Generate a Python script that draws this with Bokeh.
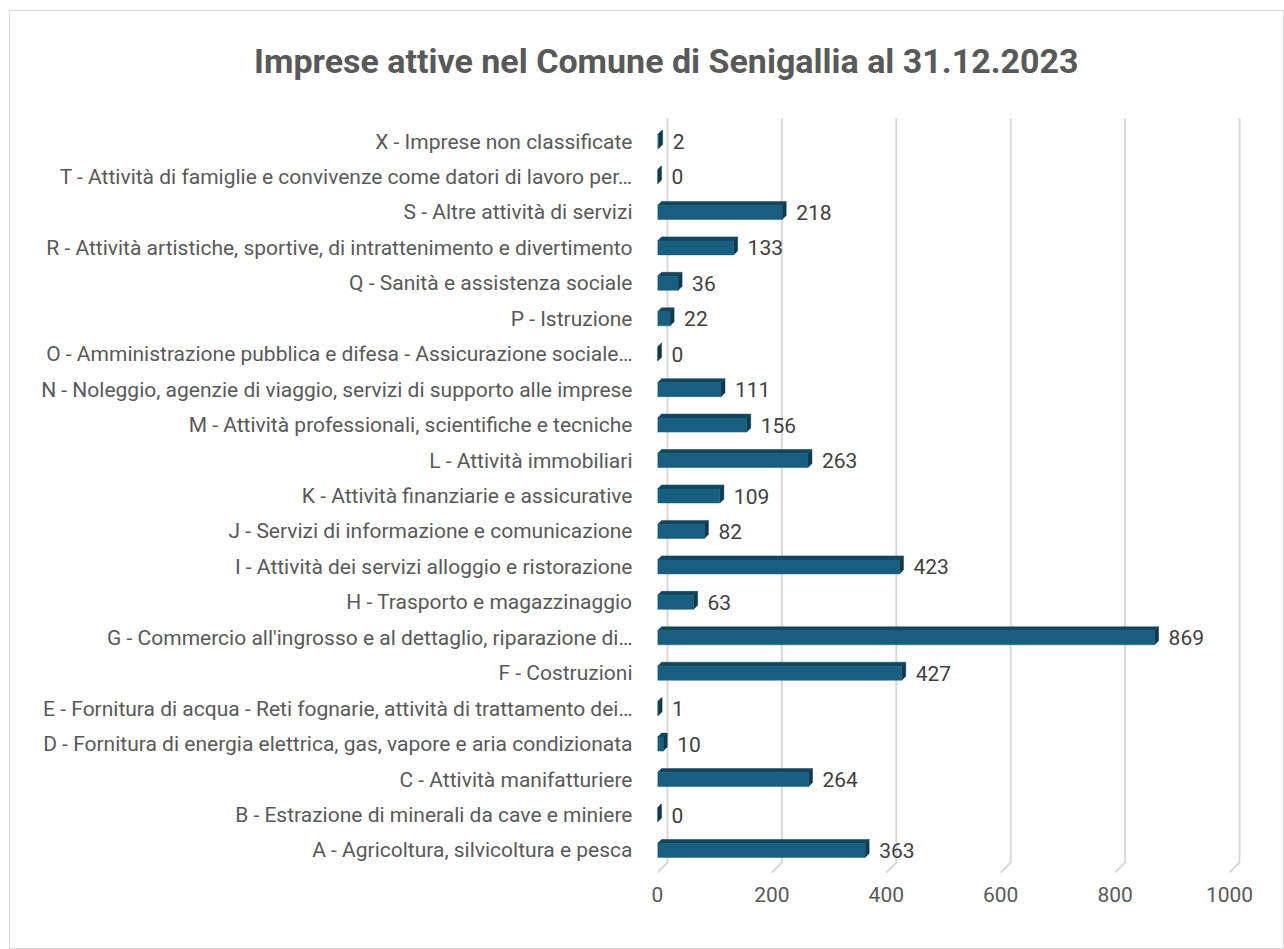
from bokeh.plotting import figure
from bokeh.models import Range1d, FixedTicker, Title, ColumnDataSource
from bokeh.core.properties import value
from bokeh.embed import file_html
from bokeh.resources import INLINE

title_text = "Imprese attive nel Comune di Senigallia al 31.12.2023"

categories = [
    "A - Agricoltura, silvicoltura e pesca",
    "B - Estrazione di minerali da cave e miniere",
    "C - Attività manifatturiere",
    "D - Fornitura di energia elettrica, gas, vapore e aria condizionata",
    "E - Fornitura di acqua - Reti fognarie, attività di trattamento dei…",
    "F - Costruzioni",
    "G - Commercio all'ingrosso e al dettaglio, riparazione di…",
    "H - Trasporto e magazzinaggio",
    "I - Attività dei servizi alloggio e ristorazione",
    "J - Servizi di informazione e comunicazione",
    "K - Attività finanziarie e assicurative",
    "L - Attività immobiliari",
    "M - Attività professionali, scientifiche e tecniche",
    "N - Noleggio, agenzie di viaggio, servizi di supporto alle imprese",
    "O - Amministrazione pubblica e difesa - Assicurazione sociale…",
    "P - Istruzione",
    "Q - Sanità e assistenza sociale",
    "R - Attività artistiche, sportive, di intrattenimento e divertimento",
    "S - Altre attività di servizi",
    "T - Attività di famiglie e convivenze come datori di lavoro per…",
    "X - Imprese non classificate",
]
values = [363, 0, 264, 10, 1, 427, 869, 63, 423, 82, 109, 263, 156, 111, 0, 22, 36, 133, 218, 0, 2]
x_ticks = [0, 200, 400, 600, 800, 1000]

FONT = "Roboto"
W, H = 1275, 939
ML, MR, MT, MB = 647, 35, 88, 77
XMAX = 1036.7
PX_PER_Y = 755 / 21.3
Y0 = -0.65
GRID_TOP = 20.65
frame_w = W - ML - MR
frame_h = H - MT - MB
Y1 = Y0 + frame_h / PX_PER_Y

p = figure(width=W, height=H, output_backend="svg", toolbar_location=None,
           x_range=Range1d(0, XMAX), y_range=Range1d(Y0, Y1),
           min_border_left=ML, min_border_right=MR, min_border_top=MT, min_border_bottom=MB)
p.outline_line_color = None
p.xgrid.grid_line_color = None
p.ygrid.grid_line_color = None
p.styles = {"border": "1px solid #d9d9d9", "margin-left": "9px", "margin-top": "10px"}

ux = XMAX / frame_w          # data units per px (x)
uy = 1 / PX_PER_Y            # data units per px (y)

# back-wall gridlines with 3D floor
g_dx, g_dy = 10 * ux, 10 * uy
floor_y = -0.62
xs = [[v, v + g_dx, v + g_dx] for v in x_ticks]
ys = [[floor_y, floor_y + g_dy, GRID_TOP] for v in x_ticks]
p.multi_line(xs, ys, line_color="#d9d9d9", line_width=2)

# 3D bars
bh = 14 * uy
d_x, d_y = 4 * ux, 4 * uy
front_xs, front_ys, top_xs, top_ys, side_xs, side_ys = [], [], [], [], [], []
for i, v in enumerate(values):
    b, t = i - bh / 2, i + bh / 2
    front_xs.append([0, v, v, 0]); front_ys.append([b, b, t, t])
    top_xs.append([0, v, v + d_x, d_x]); top_ys.append([t, t, t + d_y, t + d_y])
    side_xs.append([v, v + d_x, v + d_x, v]); side_ys.append([b, b + d_y, t + d_y, t])
p.patches(top_xs, top_ys, fill_color="#12455e", line_color="#12455e", line_width=0.5)
p.patches(side_xs, side_ys, fill_color="#0c3a50", line_color="#0c3a50", line_width=0.5)
p.patches(front_xs, front_ys, fill_color="#185f7f", line_color="#185f7f", line_width=0.5)

src = ColumnDataSource(dict(x=values, y=list(range(len(values))), t=[str(v) for v in values]))
p.text(x="x", y="y", text="t", source=src, x_offset=14, text_baseline="middle",
       text_align="left", text_font=value(FONT), text_font_size="21px", text_color="#404040")

# axes
p.yaxis.ticker = FixedTicker(ticks=list(range(len(categories))))
p.yaxis.major_label_overrides = {i: c for i, c in enumerate(categories)}
p.yaxis.axis_line_color = None
p.yaxis.major_tick_line_color = None
p.yaxis.minor_tick_line_color = None
p.yaxis.major_tick_out = 0
p.yaxis.major_tick_in = 0
p.yaxis.minor_tick_out = 0
p.yaxis.major_label_standoff = 25
p.yaxis.major_label_text_font = FONT
p.yaxis.major_label_text_font_size = "21px"
p.yaxis.major_label_text_color = "#595959"

p.xaxis.ticker = FixedTicker(ticks=x_ticks)
p.xaxis.axis_line_color = None
p.xaxis.major_tick_line_color = None
p.xaxis.minor_tick_line_color = None
p.xaxis.major_tick_out = 0
p.xaxis.major_tick_in = 0
p.xaxis.minor_tick_out = 0
p.xaxis.major_label_standoff = 13
p.xaxis.major_label_text_font = FONT
p.xaxis.major_label_text_font_size = "21px"
p.xaxis.major_label_text_color = "#595959"

title = Title(text=title_text, align="left", offset=-403.5, standoff=37,
              text_font=FONT, text_font_size="34px", text_font_style="bold", text_color="#595959")
p.add_layout(title, "above")

open("out.html", "w").write(file_html(p, INLINE))
